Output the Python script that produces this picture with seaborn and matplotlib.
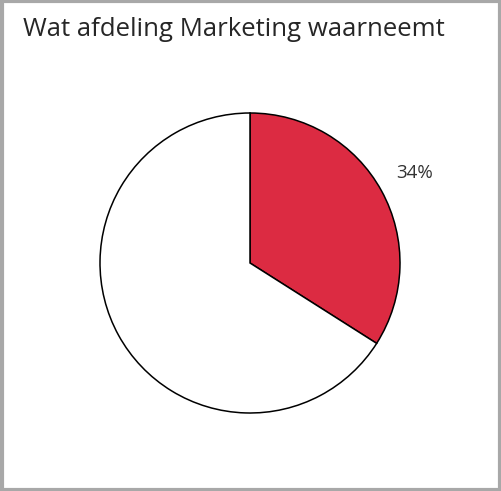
import matplotlib.pyplot as plt
import seaborn as sns
from matplotlib.patches import Rectangle

# data
labels = ['Waarneemt', 'Overig']
values = [34, 66]
colors = ['#DC2B42', '#FFFFFF']
title = 'Wat afdeling Marketing waarneemt'

sns.set_theme(style='white')
plt.rcParams['font.family'] = ['Open Sans', 'DejaVu Sans']

W, H = 502, 491
fig = plt.figure(figsize=(W / 100, H / 100), dpi=100)
fig.patch.set_facecolor('white')

cx, cy, r = 250, 263, 150
ax = fig.add_axes([(cx - r) / W, (H - cy - r) / H, 2 * r / W, 2 * r / H])

wedges, texts = ax.pie(values, colors=colors, startangle=90, counterclock=False,
                       labels=[f'{values[0]}%', ''], labeldistance=1.25,
                       wedgeprops=dict(edgecolor='black', linewidth=1.1),
                       textprops=dict(fontsize=13.5, color='#333333'))
for t in texts:
    t.set_ha('center')
    t.set_va('center')
ax.set_xlim(-1, 1)
ax.set_ylim(-1, 1)
ax.set_axis_off()

fig.text(23 / W, 1 - 30 / H, title, fontsize=18.5, color='#262626',
         ha='left', va='center')

# grey frame round the chart
fig.patches.append(Rectangle((0.003, 0.003), 0.994, 0.994, transform=fig.transFigure,
                             fill=False, edgecolor='#A8A8A8', linewidth=3))

fig.savefig('out.png', dpi=100)
